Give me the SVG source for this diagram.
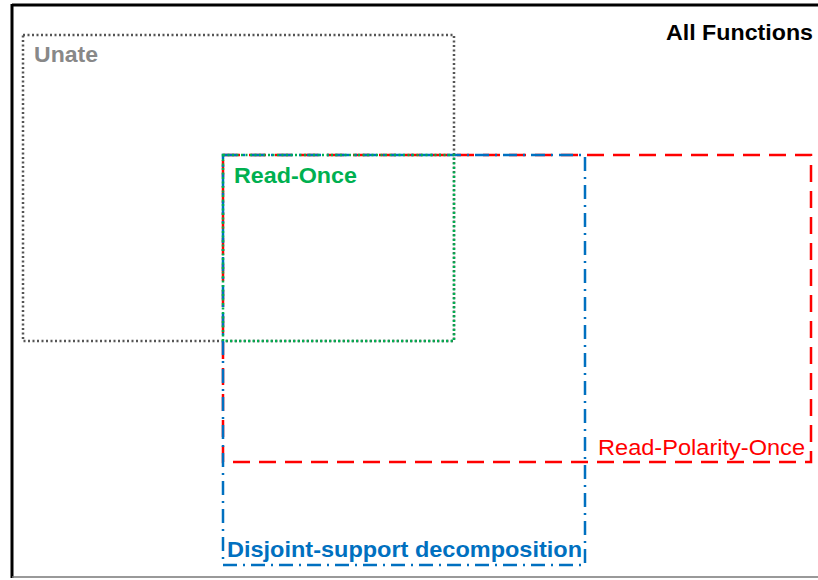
<svg xmlns="http://www.w3.org/2000/svg" width="818" height="580" viewBox="0 0 818 580">
  <style>
    .set { fill: none; stroke-width: 2.5; }
    .lbl { font-family: "Liberation Sans", Arial, sans-serif; font-size: 21.5px; }
    .b { font-weight: bold; }
  </style>
  <rect width="818" height="580" fill="#ffffff"/>
  <!-- universe frame -->
  <g id="frame">
    <line x1="12" y1="5" x2="818" y2="5" stroke="#000" stroke-width="3"/>
    <line x1="12" y1="4" x2="12" y2="578" stroke="#000" stroke-width="3"/>
    <line x1="12" y1="577" x2="818" y2="577" stroke="#777" stroke-width="1.5"/>
    <text class="lbl b" x="666" y="40" textLength="147" lengthAdjust="spacingAndGlyphs" fill="#000">All Functions</text>
  </g>
  <g id="connectors"/>
  <g id="unate">
    <rect class="set" x="23" y="35" width="431" height="306" stroke="#555" stroke-dasharray="2 2.5"/>
    <text class="lbl b" x="34" y="62" textLength="64" lengthAdjust="spacingAndGlyphs" fill="#888">Unate</text>
  </g>
  <g id="read-polarity-once">
    <rect class="set" x="223" y="155" width="588" height="307" stroke="#ff0000" stroke-dasharray="17 9"/>
    <text class="lbl" x="598" y="455" textLength="207" lengthAdjust="spacingAndGlyphs" fill="#ff0000">Read-Polarity-Once</text>
  </g>
  <g id="disjoint-support">
    <rect class="set" x="223" y="155" width="362" height="410" stroke="#0070c0" stroke-dasharray="14 6 2 6"/>
    <text class="lbl b" x="227" y="557" textLength="355" lengthAdjust="spacingAndGlyphs" fill="#0070c0">Disjoint-support decomposition</text>
  </g>
  <g id="read-once">
    <rect class="set" x="223" y="155" width="231" height="186" stroke="#00b050" stroke-dasharray="2 2.5"/>
    <text class="lbl b" x="234" y="183" textLength="123" lengthAdjust="spacingAndGlyphs" fill="#00b050">Read-Once</text>
  </g>
</svg>
